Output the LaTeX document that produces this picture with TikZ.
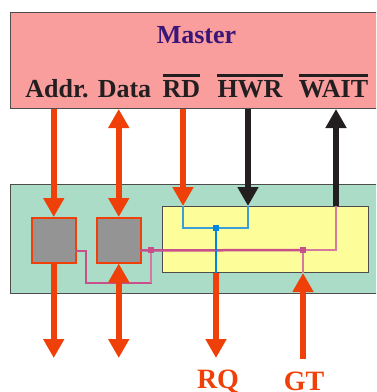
\documentclass[tikz,border=0pt]{standalone}
\usepackage{fontspec}
\setmainfont{Liberation Serif}
\usetikzlibrary{arrows.meta,calc}
\definecolor{masterpink}{RGB}{249,157,157}
\definecolor{mastertext}{RGB}{58,22,120}
\definecolor{greenbox}{RGB}{170,220,200}
\definecolor{yellowbox}{RGB}{253,253,154}
\definecolor{sig}{RGB}{238,64,8}
\definecolor{blk}{RGB}{35,31,32}
\definecolor{graybox}{RGB}{148,148,148}
\definecolor{pinkline}{RGB}{200,80,138}
\definecolor{pinklight}{RGB}{214,120,160}
\definecolor{blueline}{RGB}{0,134,220}
\definecolor{bluelight}{RGB}{60,160,215}
\begin{document}
\begin{tikzpicture}[x=1pt,y=-1pt,
  lbl/.style={font=\fontsize{26}{30}\selectfont\bfseries, text=blk, inner sep=0pt, anchor=base},
  sigtext/.style={font=\fontsize{28}{32}\selectfont\bfseries, text=sig, inner sep=0pt, anchor=base},
  bigarrow/.style={line width=6pt, draw=sig, -{Triangle[width=20pt,length=19pt]}},
  bigboth/.style={line width=6pt, draw=sig, {Triangle[width=20pt,length=19pt]}-{Triangle[width=20pt,length=19pt]}},
  blkarrow/.style={line width=6pt, draw=blk, -{Triangle[width=20pt,length=19pt]}},
  frame/.style={draw=blk!80, line width=1pt, inner sep=0pt, anchor=north west},
  gbox/.style={draw=sig, line width=1.5pt, fill=graybox, inner sep=0pt, anchor=north west, minimum width=44pt, minimum height=45pt},
  sq/.style={inner sep=0pt, minimum size=6.5pt}
]
\clip (0,0) rectangle (376,392);
% frames
\node[frame, fill=masterpink, minimum width=390pt, minimum height=96.5pt] (master) at (10,11.5) {};
\node[frame, fill=greenbox, minimum width=390pt, minimum height=109pt] (green) at (10,184) {};
\node[frame, fill=yellowbox, minimum width=206pt, minimum height=66pt] (yellow) at (162,206) {};
% coordinates
\coordinate (rdin) at (183,206);
\coordinate (hwrin) at (248,206);
\coordinate (waitin) at (336,206);
\coordinate (bot) at (0,358);
\coordinate (p1) at (75,251);
\coordinate (pdown) at (86,283);
\coordinate (p2) at (140,250.5);
% gray boxes
\node[gbox] (box1) at (31,217) {};
\node[gbox] (box2) at (96,217) {};
% squares positions
\node[sq] (bsq) at (216,228) {};
\node[sq] (psq1) at (151,250) {};
\node[sq] (psq2) at (303,250) {};
% pink lines
\draw[pinkline, line width=2.5pt] (p1) -| (pdown) -| (psq1.center);
\draw[pinklight, line width=2pt] (pdown -| psq1) -- (psq1.center);
\draw[pinkline, line width=2.5pt] (p2) -- (psq2.center);
\draw[pinklight, line width=1.5pt] (psq2.center) -| (waitin);
\draw[pinklight, line width=1.5pt] (psq2.center) -- (psq2 |- yellow.south);
% blue lines
\draw[bluelight, line width=1.5pt] (rdin) |- (bsq.center) -| (hwrin);
\draw[blueline, line width=2.5pt] (bsq.center) -- (bsq |- yellow.south);
\fill[blueline] (bsq.south west) rectangle (bsq.north east);
\fill[pinkline] (psq1.south west) rectangle (psq1.north east);
\fill[pinkline] (psq2.south west) rectangle (psq2.north east);
% arrows
\draw[bigarrow] (box1.north |- master.south) -- (box1.north);
\draw[bigarrow] (box1.south) -- (box1.south |- bot);
\draw[bigboth] (box2.north |- master.south) -- (box2.north);
\draw[bigboth] (box2.south) -- (box2.south |- bot);
\draw[bigarrow] (rdin |- master.south) -- (rdin);
\draw[blkarrow] (hwrin |- master.south) -- (hwrin);
\draw[blkarrow] (waitin) -- (waitin |- master.south);
\draw[bigarrow] (bsq |- yellow.south) -- (bsq |- bot);
\draw[bigarrow] ($(psq2 |- bot)+(0,1)$) -- (psq2 |- yellow.south);
% texts
\node[lbl, text=mastertext] (title) at (196.5,43) {Master};
\node[lbl] (addr) at (57,97) {Addr.};
\node[lbl] (data) at (124.5,97) {Data};
\node[lbl] (rd) at (181.5,97) {RD};
\node[lbl] (hwr) at (250,97) {HWR};
\node[lbl] (wait) at (333.5,97) {WAIT};
\foreach \n in {rd,hwr,wait}
  \draw[blk, line width=3pt] ([yshift=4pt]\n.north west) -- ([yshift=4pt]\n.north east);
\node[sigtext] (rq) at (218,388) {RQ};
\node[sigtext] (gt) at (304,390) {GT};
\end{tikzpicture}
\end{document}
